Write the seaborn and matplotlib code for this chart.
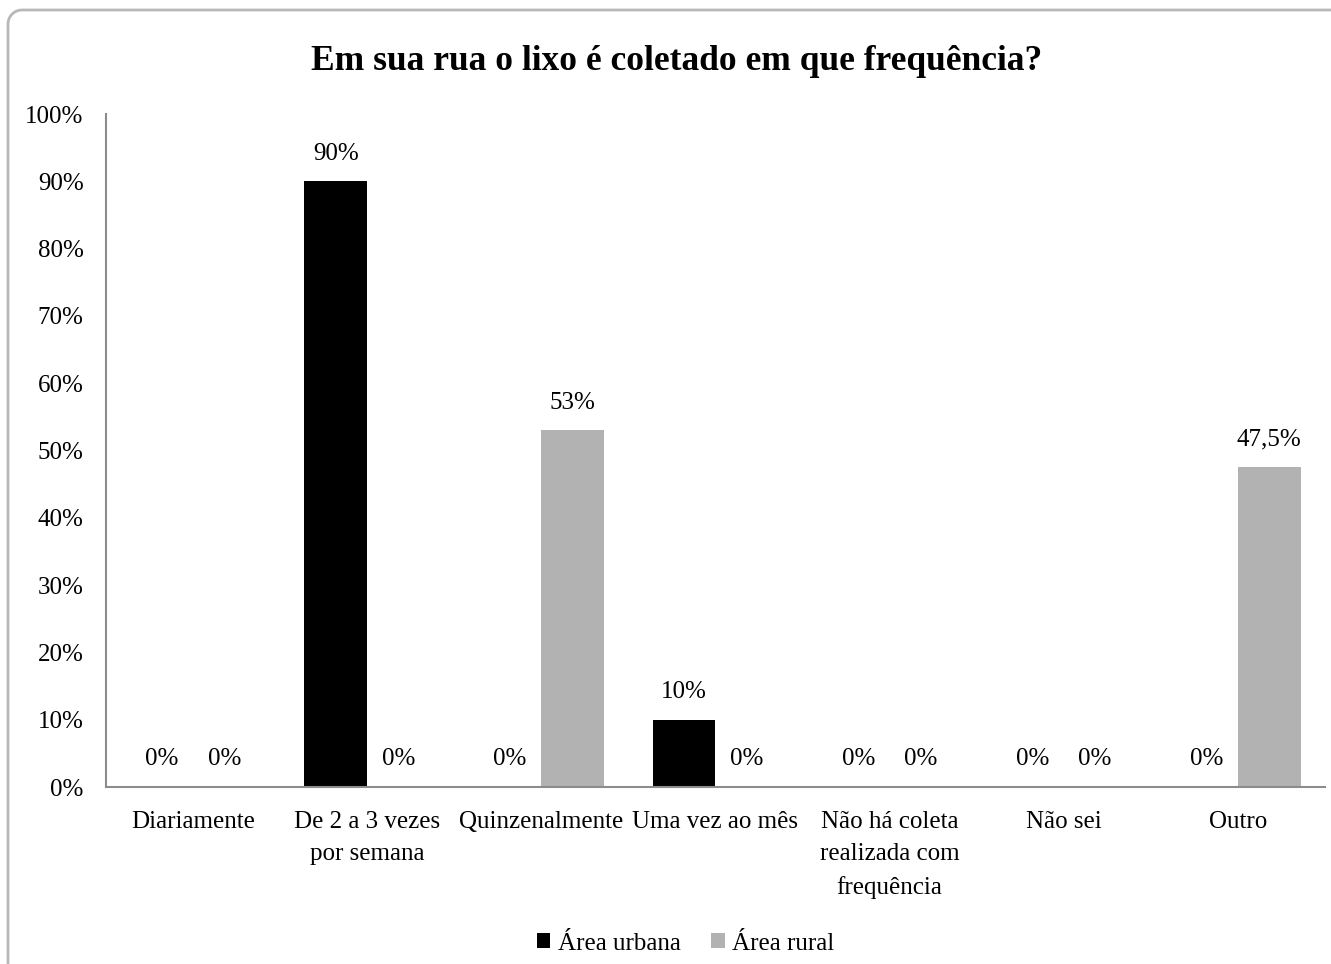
import matplotlib
matplotlib.use("Agg")
import matplotlib.pyplot as plt
from matplotlib.patches import Patch
from matplotlib.lines import Line2D
import numpy as np
import seaborn as sns
import pandas as pd

categories = [
    "Diariamente",
    "De 2 a 3 vezes\npor semana",
    "Quinzenalmente",
    "Uma vez ao mês",
    "Não há coleta\nrealizada com\nfrequência",
    "Não sei",
    "Outro",
]
series_names = ["Área urbana", "Área rural"]
urbana = [0, 90, 0, 10, 0, 0, 0]
rural = [0, 0, 53, 0, 0, 0, 47.5]
colors = ["#000000", "#b2b2b2"]
yticks = [0, 10, 20, 30, 40, 50, 60, 70, 80, 90, 100]

sns.set_theme(style="white")
plt.rcParams["font.family"] = ["Liberation Serif", "DejaVu Serif"]
plt.rcParams["text.color"] = "#000000"
plt.rcParams["xtick.color"] = "#000000"
plt.rcParams["ytick.color"] = "#000000"

df = pd.DataFrame({
    "categoria": categories * 2,
    "valor": urbana + rural,
    "area": [series_names[0]] * len(categories) + [series_names[1]] * len(categories),
})

W, H = 1331, 964
fig = plt.figure(figsize=(W / 100, H / 100), dpi=100)
ax = fig.add_axes([0.0796, 0.1836, 0.9159, 0.6981])

sns.barplot(
    data=df, x="categoria", y="valor", hue="area",
    order=categories, hue_order=series_names,
    palette=colors, width=0.72, saturation=1, ax=ax,
    legend=False, errorbar=None, linewidth=0,
)

def fmt(v):
    if float(v).is_integer():
        return f"{int(v)}%"
    return f"{v:.1f}".replace(".", ",") + "%"

for cont, vals in zip(ax.containers, [urbana, rural]):
    ax.bar_label(cont, labels=[fmt(v) for v in vals], padding=12,
                 fontsize=18, color="#000000")

ax.set_ylim(0, 100)
ax.set_xlim(-0.5, len(categories) - 0.5)
ax.set_yticks(yticks)
ax.set_yticklabels([f"{t}%" for t in yticks], fontsize=18)
ax.tick_params(axis="y", length=0, pad=16)
ax.tick_params(axis="x", length=0, pad=17, labelsize=18)
for lbl in ax.get_xticklabels():
    lbl.set_linespacing(1.6)
ax.set_xlabel("")
ax.set_ylabel("")
for s in ["top", "right"]:
    ax.spines[s].set_visible(False)
for s in ["left", "bottom"]:
    ax.spines[s].set_color("#8c8c8c")
    ax.spines[s].set_linewidth(1.5)

fig.text(0.508, 0.936, "Em sua rua o lixo é coletado em que frequência?",
         ha="center", va="center", fontsize=25.5, fontweight="bold")

handles = [Patch(facecolor=c, edgecolor="none") for c in colors]
fig.legend(handles, series_names, loc="center", bbox_to_anchor=(0.515, 0.021),
           ncol=2, frameon=False, fontsize=18, handlelength=0.55, handleheight=0.55,
           handletextpad=0.3, columnspacing=1.2)

# outer chart frame: left and top edges with a rounded top-left corner
x0, y0, r = 8, 10, 14
theta = np.linspace(np.pi, np.pi / 2, 20)
arc_x = x0 + r + r * np.cos(theta)
arc_y = y0 + r - r * np.sin(theta)
px = np.concatenate([[x0], arc_x, [W + 5]])
py = np.concatenate([[H + 5], arc_y, [y0]])
frame = Line2D(px / W, 1 - py / H, transform=fig.transFigure,
               color="#b8b8b8", linewidth=2, zorder=-1)
fig.add_artist(frame)

fig.savefig("out.png", dpi=100)
